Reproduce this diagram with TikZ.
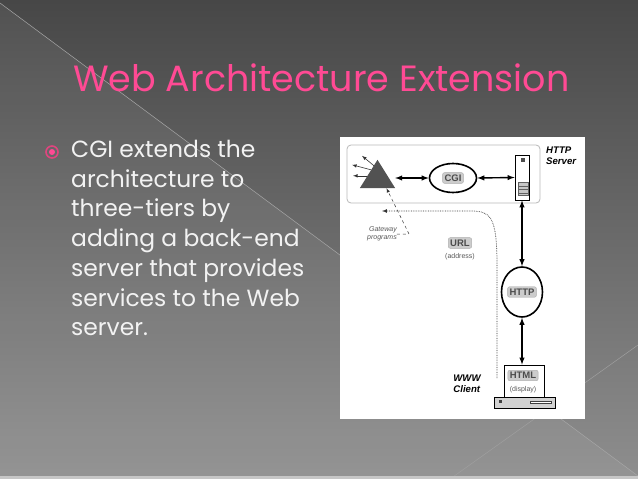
\documentclass[tikz,border=0pt]{standalone}
\usepackage{fontspec}
\usepackage{tikz}
\usetikzlibrary{shapes.geometric}
\setsansfont{Liberation Sans}
\newfontfamily\slidefont{Poppins}

\definecolor{bgtop}{HTML}{474747}
\definecolor{bgbot}{HTML}{8E8E8E}
\definecolor{titlepink}{HTML}{FF4A94}
\definecolor{bodywhite}{HTML}{F2F2F2}
\definecolor{bulletpink}{HTML}{E0457F}

\tikzset{
	tag/.style={fill=gray!40, draw=gray!65, rounded corners=2pt, inner sep=2pt, font=\sffamily\bfseries\fontsize{9.5}{10}\selectfont, text=black!70},
	loop/.style={ellipse, draw, line width=1.6pt, inner sep=0pt},
	link/.style={<->, >=latex, line width=1.4pt},
	note/.style={font=\sffamily\bfseries\itshape\fontsize{9.6}{11}\selectfont, align=left, inner sep=0pt},
	small/.style={font=\sffamily\fontsize{7}{7.5}\selectfont, text=gray!70!black, inner sep=0pt}
}

\begin{document}
\begin{tikzpicture}[x=1pt,y=-1pt]
	\useasboundingbox (0,0) rectangle (638,479);
	% slide background
	\fill[top color=bgtop, bottom color=bgbot] (0,0) rectangle (638,479);
	\fill[white, opacity=0.06] (0,3) -- (638,476) -- (0,479) -- cycle;
	\draw[gray!70, line width=0.5pt] (0,3) -- (638,476);
	\draw[gray!75, line width=0.5pt] (450,479) -- (638,345);
	\fill[gray!45] (0,476) rectangle (638,479);
	% title and bullet text
	\node (title) [anchor=base west, inner sep=0pt, text=titlepink, font=\slidefont\fontsize{36.5}{36}\selectfont] at (73,91) {Web Architecture Extension};
	\draw[bulletpink, line width=1.6pt] (52,152) circle (6);
	\fill[titlepink] (52,152) circle (3);
	\node (body) [anchor=north west, inner sep=0pt, align=left, text=bodywhite, font=\slidefont\fontsize{23.4}{29.7}\selectfont] at (71,140)
		{CGI extends the\\architecture to\\three-tiers by\\adding a back-end\\server that provides\\services to the Web\\server.};
	% diagram
	\fill[white] (340,137) rectangle (585,419);
	\draw[gray!55, rounded corners=4pt, line width=0.8pt] (347,145) rectangle (540,203);
	\node (srvtxt) [note, anchor=north west] at (546,147) {HTTP\\Server};
	\node (gw) [minimum width=35pt, minimum height=28pt, inner sep=0pt] at (377.5,174) {};
	\draw[->, >=latex, black!80, line width=0.6pt] ([shift={(-6.5,10)}]gw.north) -- ++(-19,-5);
	\draw[->, >=latex, black!80, line width=0.6pt] ([shift={(-8.5,16)}]gw.north) -- ++(-16,0);
	\draw[->, >=latex, black!80, line width=0.6pt] ([shift={(-3.5,6)}]gw.north) -- ++(-12,-10);
	\fill[black!68] (gw.south west) -- (gw.south east) -- (gw.north) -- cycle;
	\node (cgi) [loop, minimum width=47pt, minimum height=29pt] at (453,178) {};
	\node (cgitag) [tag] at (cgi) {CGI};
	\node (srv) [draw, line width=0.8pt, minimum width=14pt, minimum height=45pt, inner sep=0pt] at (522,177.5) {};
	\fill[gray!60!black] ([shift={(-1,3)}]srv.north) rectangle ++(4,4);
	\filldraw[fill=gray!45, draw=gray!75!black, line width=0.5pt] ([shift={(-4,-18)}]srv.south) rectangle ++(10,13);
	\foreach \k in {3.5,7,10.5}
		\draw[gray!75!black, line width=0.5pt] ([shift={(-4,-18+\k)}]srv.south) -- ++(10,0);
	\node (http) [loop, minimum width=41pt, minimum height=50pt] at (522,292) {};
	\node (httptag) [tag] at (http) {HTTP};
	\node (mon) [draw, line width=0.8pt, minimum width=40pt, minimum height=32pt, inner sep=0pt] at (524,381) {};
	\node (htmltag) [tag] at (523,375.5) {HTML};
	\node (disp) [small] at (523,389.5) {(display)};
	\node (base) [draw, line width=0.8pt, fill=gray!35, minimum width=61pt, minimum height=11pt, inner sep=0pt] at (524.5,402.5) {};
	\fill[black!75] ([shift={(5,-3)}]base.west) rectangle ++(3,3);
	\draw[black!75, fill=white, line width=0.5pt] ([shift={(-25,-1.5)}]base.east) rectangle ++(21,2.5);
	\node (client) [note] at (467,384) {WWW\\Client};
	\draw[link] (gw.east |- cgi.west) -- (cgi.west);
	\draw[link] (cgi.east) -- (srv.west);
	\draw[link] (srv.south) -- (http.north);
	\draw[link] (http.south) -- (http.south |- mon.north);
	% request path
	\coordinate (urlfoot) at (497,378);
	\coordinate (urlend) at (382,211);
	\draw[densely dotted, gray!40!black, line width=0.7pt, -latex] (urlfoot) -- (497,265) .. controls (497,215) and (490,211) .. (470,211) -- (urlend);
	\node (urltag) [tag] at (460,243) {URL};
	\node (addr) [small] at (460,257) {(address)};
	\node (gwtxt) [small, font=\sffamily\itshape\fontsize{7}{8.5}\selectfont, align=right] at (382,234) {Gateway\\programs};
	\draw[dashed, gray!40!black, line width=0.5pt, -latex] (gwtxt.east) -- ++(12,0) -- ([xshift=9pt]gw.south);
\end{tikzpicture}
\end{document}
